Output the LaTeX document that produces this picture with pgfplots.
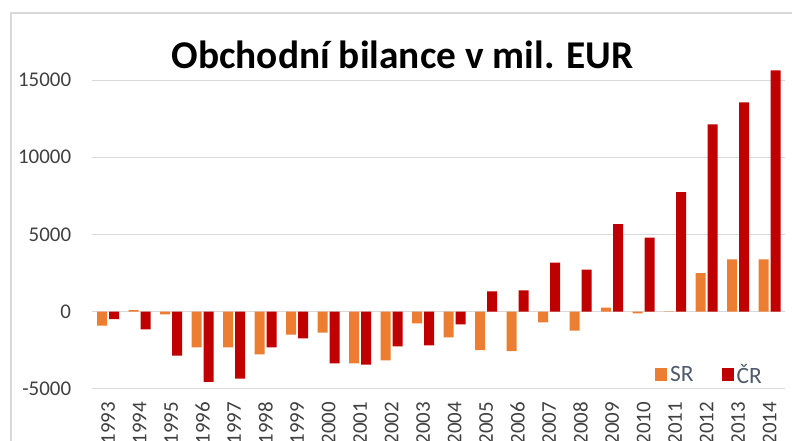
\documentclass[border=0pt]{standalone}
\usepackage{pgfplots}
\pgfplotsset{compat=1.18}
\usepackage{fontspec}
\setmainfont{Carlito}
\definecolor{sr}{HTML}{ED7D31}
\definecolor{cr}{HTML}{C00000}
\definecolor{gridc}{HTML}{D9D9D9}
\definecolor{framec}{HTML}{D9D9D9}
\definecolor{tickc}{HTML}{404040}
\definecolor{legc}{HTML}{4F5B6B}
\begin{document}
\begin{tikzpicture}
\path[use as bounding box] (0bp,0bp) rectangle (792bp,441bp);
\draw[framec, line width=1.2bp] (11bp,-30bp) rectangle (830bp,428bp);
\begin{axis}[
  at={(92.3bp,52.1bp)}, anchor=south west,
  scale only axis, width=693bp, height=324.3bp,
  xmin=-0.5, xmax=21.5, ymin=-5000, ymax=16000,
  enlargelimits=false, clip=false,
  scaled y ticks=false,
  ybar, bar width=10bp,
  axis line style={draw=none},
  major tick length=0pt,
  tick style={draw=none},
  ymajorgrids, grid style={gridc, line width=1bp},
  ytick={-5000,0,5000,10000,15000},
  yticklabels={-5000,0,5000,10000,15000},
  xtick={0,1,2,3,4,5,6,7,8,9,10,11,12,13,14,15,16,17,18,19,20,21},
  xticklabels={1993,1994,1995,1996,1997,1998,1999,2000,2001,2002,2003,2004,2005,2006,2007,2008,2009,2010,2011,2012,2013,2014},
  yticklabel style={anchor=east, inner sep=0pt, font=\fontsize{21}{25}\selectfont, text=tickc},
  yticklabel shift=21bp,
  x tick label style={rotate=90, anchor=east, inner sep=0pt, font=\fontsize{21}{25}\selectfont, text=tickc},
  xticklabel shift=12.8bp,
  legend columns=2,
  legend image code/.code={\fill[#1] (-1bp,-6bp) rectangle (11bp,6bp);},
  legend style={at={(0.812,0.0444)}, anchor=west, draw=none, fill=none,
    font=\fontsize{23.5}{27}\selectfont, text=legc, inner sep=0pt,
    nodes={inner sep=3bp},
    /tikz/every even column/.append style={column sep=25bp}},
]
\addplot[fill=sr, draw=none, bar shift=-6bp] coordinates {
(0,-906) (1,108) (2,-173) (3,-2309) (4,-2309) (5,-2762) (6,-1489) (7,-1360)
(8,-3345) (9,-3151) (10,-755) (11,-1662) (12,-2482) (13,-2546) (14,-690)
(15,-1230) (16,259) (17,-108) (18,20) (19,2505) (20,3392) (21,3392)};
\addlegendentry{SR}
\addplot[fill=cr, draw=none, bar shift=6bp] coordinates {
(0,-475) (1,-1144) (2,-2849) (3,-4553) (4,-4338) (5,-2309) (6,-1726) (7,-3345)
(8,-3431) (9,-2244) (10,-2180) (11,-820) (12,1320) (13,1381) (14,3173)
(15,2719) (16,5678) (17,4791) (18,7749) (19,12132) (20,13556) (21,15628)};
\addlegendentry{ČR}
\end{axis}
\node[anchor=base, inner sep=0pt, font=\bfseries\fontsize{39.5}{46}\selectfont] at (402.5bp,372bp) {Obchodní bilance v mil. EUR};
\end{tikzpicture}
\end{document}
